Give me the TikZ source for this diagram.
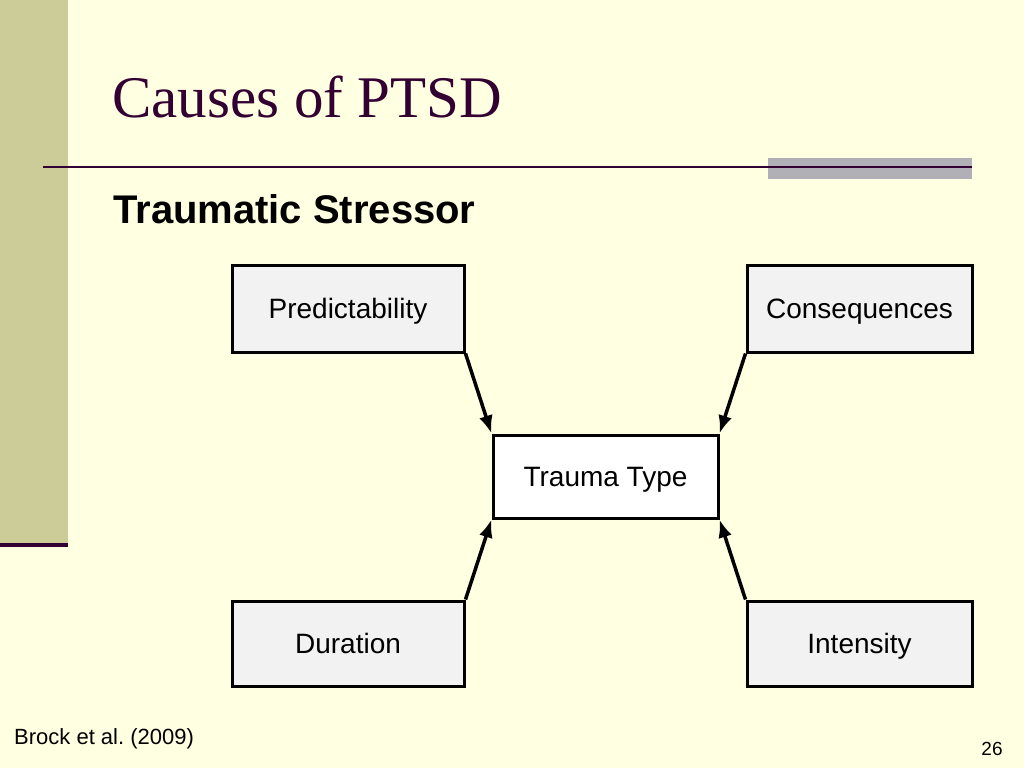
\documentclass[tikz,border=0pt]{standalone}
\usepackage{fontspec}
\setmainfont{Liberation Serif}
\setsansfont{Liberation Sans}
\usetikzlibrary{arrows.meta}
\definecolor{slidebg}{HTML}{FFFFE1}
\definecolor{slidebar}{HTML}{CCCC99}
\definecolor{plum}{HTML}{330033}
\definecolor{rulegray}{HTML}{B1B0B7}
\definecolor{boxgray}{HTML}{F2F2F3}

\begin{document}
\begin{tikzpicture}[x=1pt, y=-1pt,
    factor/.style={draw=black, line width=3pt, fill=boxgray, minimum width=232pt,
      minimum height=87pt, inner sep=0pt, text height=20pt, text depth=0pt,
      font=\sffamily\fontsize{28}{32}\selectfont},
    feed/.style={line width=3.5pt, -{Latex[length=18pt, width=14pt]}}]
  \useasboundingbox[fill=slidebg] (0,0) rectangle (1024,768);
  \fill[slidebar] (0,0) rectangle (68,545);
  \draw[plum, line width=4pt] (0,545) -- (68,545);
  \fill[rulegray] (768,158) rectangle (972,179);
  \draw[plum, line width=2pt] (43,167) -- (972,167);
  \node[anchor=base west, inner sep=0pt, text=plum, font=\fontsize{59}{64}\selectfont]
    (title) at (112,117) {Causes of PTSD};
  \node[anchor=base west, inner sep=0pt, font=\sffamily\bfseries\fontsize{40}{44}\selectfont]
    (stressor) at (113,223) {Traumatic Stressor};

  \node[factor] (predict) at (348,308.5) {Predictability};
  \node[factor, minimum width=225pt] (conseq) at (859.5,308.5) {Consequences};
  \node[factor, minimum width=225pt, minimum height=83pt, fill=white] (trauma) at (605.5,476.5) {Trauma Type};
  \node[factor, minimum height=85pt] (duration) at (348,643.5) {Duration};
  \node[factor, minimum width=225pt, minimum height=85pt] (intens) at (859.5,643.5) {Intensity};

  \draw[feed] (predict.south east) -- (trauma.north west);
  \draw[feed] (conseq.south west) -- (trauma.north east);
  \draw[feed] (duration.north east) -- (trauma.south west);
  \draw[feed] (intens.north west) -- (trauma.south east);

  \node[anchor=base west, inner sep=0pt, font=\sffamily\fontsize{22}{24}\selectfont]
    (source) at (14,744) {Brock et al.\ (2009)};
  \node[anchor=base, inner sep=0pt, font=\sffamily\fontsize{19}{21}\selectfont]
    (pageno) at (992,755) {26};
\end{tikzpicture}
\end{document}
